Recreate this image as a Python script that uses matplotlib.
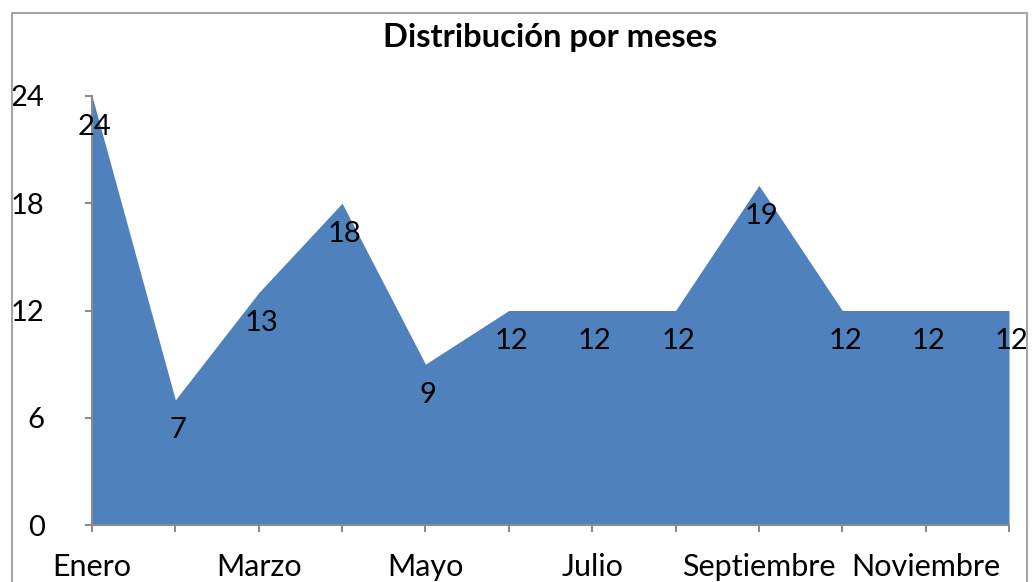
import matplotlib
matplotlib.use("Agg")
import matplotlib.pyplot as plt
from matplotlib.patches import Rectangle

months = ["Enero", "Febrero", "Marzo", "Abril", "Mayo", "Junio", "Julio",
          "Agosto", "Septiembre", "Octubre", "Noviembre", "Diciembre"]
values = [24, 7, 13, 18, 9, 12, 12, 12, 19, 12, 12, 12]
yticks = [0, 6, 12, 18, 24]
title = "Distribución por meses"

plt.rcParams['font.family'] = ['Lato', 'DejaVu Sans']

W, H = 1032, 582
fig = plt.figure(figsize=(W / 100, H / 100), dpi=100)
fig.patch.set_facecolor('white')

# outer chart frame
fig.patches.append(Rectangle((12 / W, -0.05), (1027 - 12) / W, 1.05 - 13 / H,
                             transform=fig.transFigure, fill=False,
                             edgecolor='#a6a6a6', linewidth=1.5))

ax = fig.add_axes([92 / W, 1 - 525 / H, (1009 - 92) / W, (525 - 96) / H])
x = list(range(len(months)))
ax.fill_between(x, values, 0, color='#4F81BD', linewidth=0)
ax.set_xlim(0, len(months) - 1)
ax.set_ylim(0, 24)

for s in ['top', 'right']:
    ax.spines[s].set_visible(False)
for s in ['left', 'bottom']:
    ax.spines[s].set_color('#8c8c8c')
    ax.spines[s].set_linewidth(1.5)

ax.set_yticks(yticks)
ax.set_yticklabels([str(t) for t in yticks])
ax.set_xticks(x)
ax.set_xticklabels([m if i % 2 == 0 else "" for i, m in enumerate(months)])
ax.tick_params(axis='y', direction='out', length=5, width=1.5, color='#8c8c8c',
               pad=29, labelsize=21)
ax.tick_params(axis='x', direction='out', length=5, width=1.5, color='#8c8c8c',
               pad=15, labelsize=22)

for xi, v in zip(x, values):
    ax.annotate(str(v), (xi, v), xytext=(2, -22), textcoords='offset points',
                ha='center', va='center', fontsize=21, color='black',
                annotation_clip=False)

ax.set_title(title, fontsize=23.5, fontweight='bold', pad=35)
fig.savefig("out.png", dpi=100)
